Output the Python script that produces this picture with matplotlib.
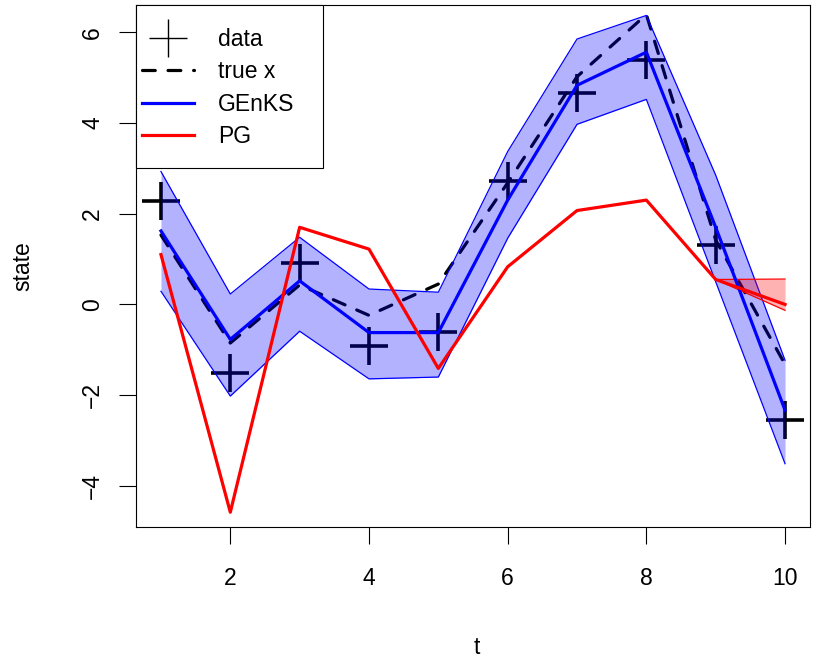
import matplotlib
matplotlib.use('Agg')
import matplotlib.pyplot as plt
from matplotlib.lines import Line2D
from matplotlib.patches import Rectangle

plt.rcParams['font.family'] = ['Liberation Sans', 'DejaVu Sans']

# values
t = [1, 2, 3, 4, 5, 6, 7, 8, 9, 10]
data_y = [2.27, -1.51, 0.91, -0.92, -0.60, 2.72, 4.67, 5.38, 1.31, -2.55]
true_x = [1.53, -0.85, 0.43, -0.24, 0.45, 2.68, 5.02, 6.39, 1.42, -1.32]
genks_mean = [1.62, -0.77, 0.52, -0.62, -0.62, 2.30, 4.83, 5.56, 1.70, -2.33]
genks_hi = [2.93, 0.23, 1.48, 0.34, 0.27, 3.37, 5.85, 6.37, 2.85, -1.23]
genks_lo = [0.29, -2.02, -0.59, -1.64, -1.60, 1.46, 3.97, 4.52, 0.50, -3.51]
pg_mean = [1.10, -4.58, 1.70, 1.22, -1.41, 0.83, 2.07, 2.30, 0.55, 0.00]
pg_hi = [1.10, -4.58, 1.70, 1.22, -1.41, 0.83, 2.07, 2.30, 0.55, 0.56]
pg_lo = [1.10, -4.58, 1.70, 1.22, -1.41, 0.83, 2.07, 2.30, 0.55, -0.13]

W, H = 830, 664
fs = 16.5
fig = plt.figure(figsize=(8.3, 6.64), dpi=100)
ax = fig.add_axes([136/W, 137/H, 674/W, 522/H])

ax.plot(t, data_y, linestyle='none', marker='+', markersize=27, mew=2.6, color='black', zorder=2)
ax.plot(t, true_x, color='black', lw=2.3, dashes=(4, 4), dash_capstyle='round', zorder=2)

ax.fill_between(t, genks_lo, genks_hi, color='blue', alpha=0.3, lw=0, zorder=3)
ax.plot(t, genks_hi, color='blue', lw=0.9, zorder=3)
ax.plot(t, genks_lo, color='blue', lw=0.9, zorder=3)
ax.plot(t, genks_mean, color='blue', lw=2.3, zorder=4)

ax.fill_between(t, pg_lo, pg_hi, color='red', alpha=0.3, lw=0, zorder=3)
ax.plot(t, pg_hi, color='red', lw=0.9, zorder=3)
ax.plot(t, pg_lo, color='red', lw=0.9, zorder=3)
ax.plot(t, pg_mean, color='red', lw=2.3, zorder=4)

ax.set_xlim(0.64, 10.36)
ax.set_ylim(-4.905, 6.60)
ax.set_xticks([2, 4, 6, 8, 10])
ax.set_yticks([-4, -2, 0, 2, 4, 6])
ax.set_yticklabels(['\u22124', '\u22122', '0', '2', '4', '6'], rotation=90, va='center')
ax.tick_params(length=12, width=0.8, labelsize=fs, color='black')
ax.tick_params(axis='x', pad=17)
ax.tick_params(axis='y', pad=11)
for s in ax.spines.values():
    s.set_linewidth(0.8)

fig.text(477/W, 1 - 647/H, 't', fontsize=fs, ha='center', va='center')
fig.text(23/W, 1 - 266/H, 'state', fontsize=fs, ha='center', va='center', rotation=90)

# legend box drawn by hand (R style padding)
box = Rectangle((136/W, 1 - 168/H), (323 - 136)/W, (168 - 5)/H, transform=fig.transFigure,
                facecolor='white', edgecolor='black', lw=0.8, zorder=9, clip_on=False)
ax.add_patch(box)

handles = [
    Line2D([], [], linestyle='none', marker='+', markersize=27, mew=1, color='black'),
    Line2D([], [], color='black', lw=2.3, dashes=(4, 4), dash_capstyle='round'),
    Line2D([], [], color='blue', lw=2.3),
    Line2D([], [], color='red', lw=2.3),
]
leg = ax.legend(handles, ['data', 'true x', 'GEnKS', 'PG'], loc='upper left',
                bbox_to_anchor=(142/W, 1 - 28/H), bbox_transform=fig.transFigure,
                borderaxespad=0, borderpad=0, frameon=False, fontsize=fs,
                handlelength=2.27, handletextpad=1.05, labelspacing=0.41)
leg.set_zorder(10)

fig.savefig('out.png', dpi=100)
